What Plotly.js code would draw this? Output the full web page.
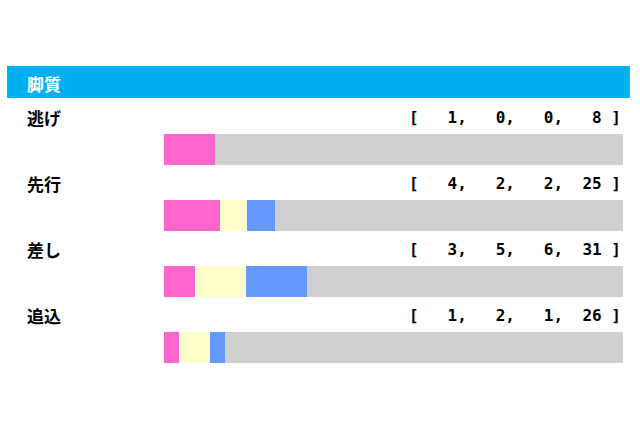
<!DOCTYPE html>
<html>
<head>
<meta charset="utf-8">
<script src="https://cdn.plot.ly/plotly-3.0.1.min.js"></script>
<style>
  html, body { margin: 0; padding: 0; background: #fff; }
  #chart { width: 640px; height: 426px; }
</style>
</head>
<body>
<div id="chart"></div>
<script>
// 脚質ごとの成績 [1着, 2着, 3着, 着外]
var styles = ["逃げ", "先行", "差し", "追込"];
var firsts = [1, 4, 3, 1];
var seconds = [0, 2, 5, 2];
var thirds = [0, 2, 6, 1];
var others = [8, 25, 31, 26];

var colors = ["#FF66CC", "#FFFFCC", "#6699FF", "#D0D0D0"];
var series = [firsts, seconds, thirds, others];

var totals = styles.map(function (s, i) {
  return firsts[i] + seconds[i] + thirds[i] + others[i];
});

var data = series.map(function (vals, k) {
  return {
    type: "bar",
    orientation: "h",
    y: styles,
    x: vals.map(function (v, i) { return v / totals[i]; }),
    marker: { color: colors[k], line: { width: 0 } },
    hoverinfo: "skip"
  };
});

var nb = "\u00A0";
function pad2(v) {
  var s = String(v);
  return s.length < 2 ? nb + s : s;
}

var annotations = [];
styles.forEach(function (s, i) {
  // 脚質名
  annotations.push({
    xref: "paper", yref: "y", x: -0.302, y: s, yshift: 32,
    xanchor: "left", yanchor: "middle", showarrow: false,
    text: "<b>" + s + "</b>",
    font: { family: "Noto Sans CJK JP", size: 17, color: "#000" }
  });
  // 成績
  var nums = [firsts[i], seconds[i], thirds[i], others[i]].map(pad2);
  annotations.push({
    xref: "paper", yref: "y", x: 1.0, y: s, yshift: 32,
    xanchor: "right", yanchor: "middle", showarrow: false,
    text: "<b>[" + nb + nb + nums.join("," + nb + nb) + nb + "]</b>",
    font: { family: "DejaVu Sans Mono", size: 16, color: "#000" }
  });
});

// 見出し
annotations.push({
  xref: "paper", yref: "paper", x: -0.302, y: 1.128,
  xanchor: "left", yanchor: "middle", showarrow: false,
  text: "<b>脚質</b>",
  font: { family: "Noto Sans CJK JP", size: 17, color: "#fff" }
});

var layout = {
  width: 640,
  height: 426,
  margin: { l: 164, r: 17, t: 117, b: 46 },
  paper_bgcolor: "#fff",
  plot_bgcolor: "#fff",
  barmode: "stack",
  bargap: 0.53,
  showlegend: false,
  xaxis: { range: [0, 1], visible: false, fixedrange: true },
  yaxis: { type: "category", range: [3.5, -0.5], visible: false, fixedrange: true },
  shapes: [{
    type: "rect", xref: "paper", yref: "paper",
    x0: -0.342, x1: 1.015, y0: 1.072, y1: 1.194,
    fillcolor: "#00B0F0", line: { width: 0 }, layer: "below"
  }],
  annotations: annotations
};

Plotly.newPlot("chart", data, layout, { displayModeBar: false, staticPlot: true });
</script>
</body>
</html>
